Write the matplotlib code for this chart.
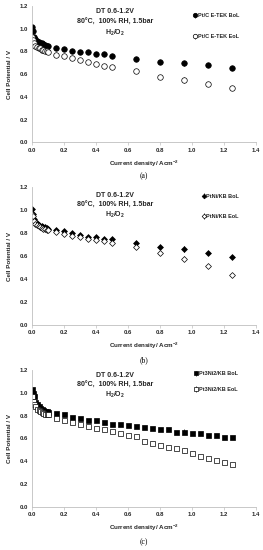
import matplotlib
matplotlib.use("Agg")
import matplotlib.pyplot as plt

plt.rcParams['font.family'] = ['Liberation Sans', 'DejaVu Sans']
plt.rcParams['mathtext.fontset'] = 'custom'
plt.rcParams['mathtext.bf'] = 'Liberation Sans:bold'
plt.rcParams['mathtext.rm'] = 'Liberation Sans:bold'

# ---- data ----
x_low = [0.0, 0.005, 0.01, 0.02, 0.03, 0.04, 0.05, 0.06, 0.07, 0.08, 0.09, 0.1]
x_ab = x_low + [0.15, 0.2, 0.25, 0.3, 0.35, 0.4, 0.45, 0.5, 0.65, 0.8, 0.95, 1.1, 1.25]
x_c = x_low + [0.15, 0.2, 0.25, 0.3, 0.35, 0.4, 0.45, 0.5, 0.55, 0.6, 0.65, 0.7,
               0.75, 0.8, 0.85, 0.9, 0.95, 1.0, 1.05, 1.1, 1.15, 1.2, 1.25]

# (a) Pt/C E-TEK
a_bol = [1.01, 0.98, 0.93, 0.91, 0.89, 0.88, 0.875, 0.87, 0.86, 0.855, 0.85, 0.845,
         0.83, 0.824, 0.805, 0.79, 0.79, 0.775, 0.775, 0.76, 0.737, 0.706, 0.694, 0.677, 0.656]
a_eol = [0.925, 0.9, 0.87, 0.85, 0.84, 0.83, 0.825, 0.815, 0.81, 0.805, 0.8, 0.795,
         0.772, 0.76, 0.74, 0.723, 0.706, 0.69, 0.674, 0.66, 0.628, 0.575, 0.55, 0.512, 0.477]
a_bol_err = [0] * 22 + [0.02, 0, 0]
a_eol_err = [0] * 13 + [0.01] + [0] * 8 + [0.025, 0, 0]

# (b) PtNi/KB
b_bol = [1.015, 0.97, 0.92, 0.9, 0.885, 0.875, 0.865, 0.86, 0.855, 0.85, 0.845, 0.84,
         0.828, 0.82, 0.8, 0.78, 0.767, 0.764, 0.75, 0.746, 0.711, 0.679, 0.66, 0.63, 0.594]
b_eol = [0.97, 0.95, 0.91, 0.88, 0.87, 0.86, 0.85, 0.845, 0.84, 0.835, 0.83, 0.825,
         0.814, 0.793, 0.778, 0.77, 0.75, 0.743, 0.729, 0.717, 0.679, 0.626, 0.576, 0.515, 0.436]
b_bol_err = [0] * 13 + [0.02] + [0] * 6 + [0.015, 0, 0.025, 0, 0]
b_eol_err = [0] * 19 + [0.015, 0, 0, 0.02, 0, 0]

# (c) Pt3Ni2/KB
c_bol = [1.03, 1.0, 0.97, 0.92, 0.9, 0.88, 0.87, 0.86, 0.85, 0.84, 0.84, 0.835,
         0.825, 0.814, 0.79, 0.776, 0.761, 0.761, 0.746, 0.73, 0.73, 0.717,
         0.708, 0.697, 0.694, 0.679, 0.679, 0.658, 0.658, 0.644, 0.644, 0.626, 0.626, 0.612, 0.612]
c_eol = [0.97, 0.93, 0.9, 0.88, 0.86, 0.85, 0.84, 0.83, 0.82, 0.815, 0.81, 0.81,
         0.781, 0.761, 0.74, 0.723, 0.705, 0.694, 0.679, 0.661, 0.65, 0.632,
         0.617, 0.574, 0.556, 0.541, 0.527, 0.512, 0.495, 0.468, 0.445, 0.424, 0.407, 0.395, 0.375]
c_bol_err = [0] * 28 + [0.02] + [0] * 6
c_eol_err = [0] * 28 + [0.02] + [0] * 6

panels = [
    dict(x=x_ab, bol=a_bol, eol=a_eol, be=a_bol_err, ee=a_eol_err, marker='o', ms=4.0,
         names=['Pt/C E-TEK BoL', 'Pt/C E-TEK EoL'], cap='(a)',
         ax=[0.1228, 0.7410, 0.849, 0.2485], leg=(0.715, 0.945), lsp=2.9,
         txt=[0.956, 0.876, 0.803], xl=0.7018, cy=0.679),
    dict(x=x_ab, bol=b_bol, eol=b_eol, be=b_bol_err, ee=b_eol_err, marker='D', ms=3.0,
         names=['PtNi/KB BoL', 'PtNi/KB EoL'], cap='(b)',
         ax=[0.1228, 0.4096, 0.849, 0.2498], leg=(0.755, 0.955), lsp=2.8,
         txt=[0.939, 0.87, 0.80], xl=0.3704, cy=0.345),
    dict(x=x_c, bol=c_bol, eol=c_eol, be=c_bol_err, ee=c_eol_err, marker='s', ms=3.6,
         names=['Pt3Ni2/KB BoL', 'Pt3Ni2/KB EoL'], cap='(c)',
         ax=[0.1228, 0.0787, 0.849, 0.2485], leg=(0.72, 0.99), lsp=1.9,
         txt=[0.958, 0.888, 0.818], xl=0.0395, cy=0.0135),
]

fig = plt.figure(figsize=(2.63, 5.5), dpi=100)
gray = '#bfbfbf'
tcol = '#262626'

for p in panels:
    ax = fig.add_axes(p['ax'])
    ax.errorbar(p['x'], p['bol'], yerr=p['be'], fmt=p['marker'], ms=p['ms'],
                mfc='black', mec='black', mew=0.5, ecolor='black', elinewidth=0.5,
                capsize=0, label=p['names'][0])
    ax.errorbar(p['x'], p['eol'], yerr=p['ee'], fmt=p['marker'], ms=p['ms'],
                mfc='white', mec='black', mew=0.5, ecolor='black', elinewidth=0.5,
                capsize=0, label=p['names'][1])
    ax.set_xlim(0, 1.4)
    ax.set_ylim(0, 1.2)
    ax.set_xticks([0.0, 0.2, 0.4, 0.6, 0.8, 1.0, 1.2, 1.4])
    ax.set_yticks([0.0, 0.2, 0.4, 0.6, 0.8, 1.0, 1.2])
    ax.xaxis.set_major_formatter(matplotlib.ticker.FormatStrFormatter('%.1f'))
    ax.yaxis.set_major_formatter(matplotlib.ticker.FormatStrFormatter('%.1f'))
    for s in ['top', 'right']:
        ax.spines[s].set_visible(False)
    for s in ['left', 'bottom']:
        ax.spines[s].set_color(gray)
        ax.spines[s].set_linewidth(0.6)
    ax.tick_params(axis='both', labelsize=4.3, colors=gray, labelcolor=tcol,
                   length=2, width=0.5, pad=1.8)
    ax.tick_params(axis='y', length=0, pad=3)
    for lab in ax.get_xticklabels() + ax.get_yticklabels():
        lab.set_fontweight('bold')

    leg = ax.legend(loc='upper left', bbox_to_anchor=p['leg'], frameon=False,
                    fontsize=4.0, labelspacing=p['lsp'], handletextpad=0.0,
                    handlelength=1.0, borderpad=0, borderaxespad=0, markerscale=0.8)
    for t in leg.get_texts():
        t.set_fontweight('bold')
        t.set_color(tcol)

    lines = ['DT 0.6-1.2V', '80°C,  100% RH, 1.5bar', r'H$_\mathbf{2}$/O$_\mathbf{2}$']
    for ln, yy in zip(lines, p['txt']):
        ax.text(0.37, yy, ln, transform=ax.transAxes, ha='center', va='center',
                fontsize=5.0, fontweight='bold', color=tcol)

    cx = p['ax'][0] + p['ax'][2] / 2
    fig.text(cx, p['xl'], r'Current density/ Acm$^{\mathbf{-2}}$', ha='center', va='center',
             fontsize=4.5, fontweight='bold', color=tcol)
    fig.text(0.035, p['ax'][1] + p['ax'][3] / 2, 'Cell Potential / V', rotation=90,
             ha='center', va='center', fontsize=4.5, fontweight='bold', color=tcol)
    fig.text(cx, p['cy'], p['cap'], ha='center', va='center', fontsize=5.5,
             family=['Liberation Serif', 'DejaVu Serif'], color='black')

fig.savefig('out.png', dpi=100)
